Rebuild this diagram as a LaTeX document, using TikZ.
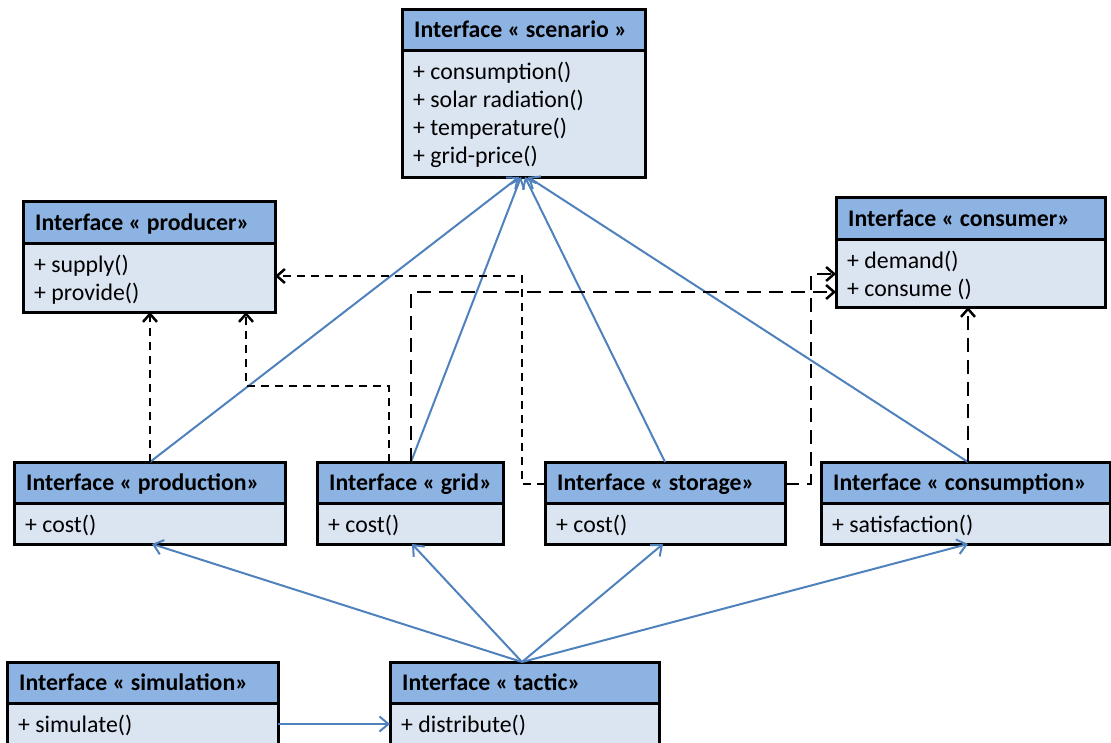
\documentclass[tikz,border=0pt]{standalone}
\usepackage{fontspec}
\setmainfont{Carlito}
\usetikzlibrary{arrows.meta}
\definecolor{headfill}{RGB}{141,179,226}
\definecolor{bodyfill}{RGB}{219,229,241}
\definecolor{linkblue}{RGB}{79,129,189}
\tikzset{
  boxbody/.style={fill=bodyfill, inner sep=0pt, outer sep=0pt, draw=none},
  boxline/.style={line width=3pt, black},
  headtext/.style={anchor=base west, inner sep=0pt, font=\fontsize{23.8}{28}\selectfont\bfseries},
  bodytext/.style={anchor=base west, inner sep=0pt, font=\fontsize{23.8}{28}\selectfont},
  bluelink/.style={linkblue, line width=2pt, -{Straight Barb[length=9pt,width=15pt]}},
  realize/.style={black, line width=2.5pt, dash pattern=on 8pt off 6pt, -{Straight Barb[length=8pt,width=14pt]}},
  uselink/.style={black, line width=2.5pt, dash pattern=on 14pt off 8pt, -{Straight Barb[length=8pt,width=14pt]}},
}
\newcommand\umlbox[8]{%
  \node[boxbody, anchor=north west, minimum width={#4-#2}, minimum height={#5-#3}] (#1) at (#2,#3) {};
  \fill[headfill] (#1.north west) rectangle (#4,#6);
  \draw[boxline] (#2,#6) -- (#4,#6);
  \draw[boxline] (#1.north west) rectangle (#1.south east);
  \node[headtext] (#1-t) at ({#2+12},{(#3+#6)/2+8}) {#7};
  \foreach \ln [count=\k] in {#8} {
    \node[bodytext] (#1-l\k) at ({#2+11},{#6+1+28*\k}) {\ln};
  }
}
\begin{document}
\begin{tikzpicture}[x=1pt,y=-1pt]
\useasboundingbox (0,0) rectangle (1111,742);
\umlbox{sc}{402}{9}{645}{177}{50}{Interface « scenario »}{+ consumption(),+ solar radiation(),+ temperature(),+ grid-price()}
\umlbox{pr}{23}{201}{275}{312}{243}{Interface « producer»}{+ supply(),+ provide()}
\umlbox{co}{836}{197}{1105}{307}{239}{Interface « consumer»}{+ demand(),+ consume ()}
\umlbox{pn}{14}{462}{285}{544}{503}{Interface « production»}{+ cost()}
\umlbox{gr}{317}{462}{503}{544}{503}{Interface « grid»}{+ cost()}
\umlbox{st}{545}{462}{785}{544}{503}{Interface « storage»}{+ cost()}
\umlbox{cn}{821}{462}{1110}{544}{503}{Interface « consumption»}{+ satisfaction()}
\umlbox{si}{7}{662}{278}{770}{703}{Interface « simulation»}{+ simulate()}
\umlbox{ta}{390}{662}{659}{770}{703}{Interface « tactic»}{+ distribute()}

% blue links to scenario
\draw[bluelink] ([shift={(136,0)}]pn.north west) -- ([shift={(117,0)}]sc.south west);
\draw[bluelink] ([shift={(94,0)}]gr.north west) -- ([shift={(119,0)}]sc.south west);
\draw[bluelink] ([shift={(120,0)}]st.north west) -- ([shift={(123,0)}]sc.south west);
\draw[bluelink] ([shift={(147,0)}]cn.north west) -- ([shift={(126,0)}]sc.south west);
% blue links from tactic
\draw[bluelink] ([shift={(132,0)}]ta.north west) -- ([shift={(138,0)}]pn.south west);
\draw[bluelink] ([shift={(132,0)}]ta.north west) -- ([shift={(95,0)}]gr.south west);
\draw[bluelink] ([shift={(132,0)}]ta.north west) -- ([shift={(118,0)}]st.south west);
\draw[bluelink] ([shift={(132,0)}]ta.north west) -- ([shift={(147,0)}]cn.south west);
\draw[bluelink] ([shift={(0,62)}]si.north east) -- ([shift={(0,62)}]ta.north west);

% dashed links to producer
\draw[realize] ([shift={(136,0)}]pn.north west) -- ([shift={(127,0)}]pr.south west);
\draw[realize] ([shift={(72,0)}]gr.north west) |- ([shift={(223,74)}]pr.south west) -- ([shift={(223,0)}]pr.south west);
\draw[realize] ([shift={(0,22)}]st.north west) -- ++(-23,0) |- ([shift={(0,75)}]pr.north east);
% dashed links to consumer
\draw[uselink] ([shift={(94,0)}]gr.north west) |- ([shift={(0,95)}]co.north west);
\draw[uselink] ([shift={(0,22)}]st.north east) -- ++(26,0) |- ([shift={(0,77)}]co.north west);
\draw[uselink] ([shift={(147,0)}]cn.north west) -- ([shift={(132,0)}]co.south west);
\end{tikzpicture}
\end{document}
